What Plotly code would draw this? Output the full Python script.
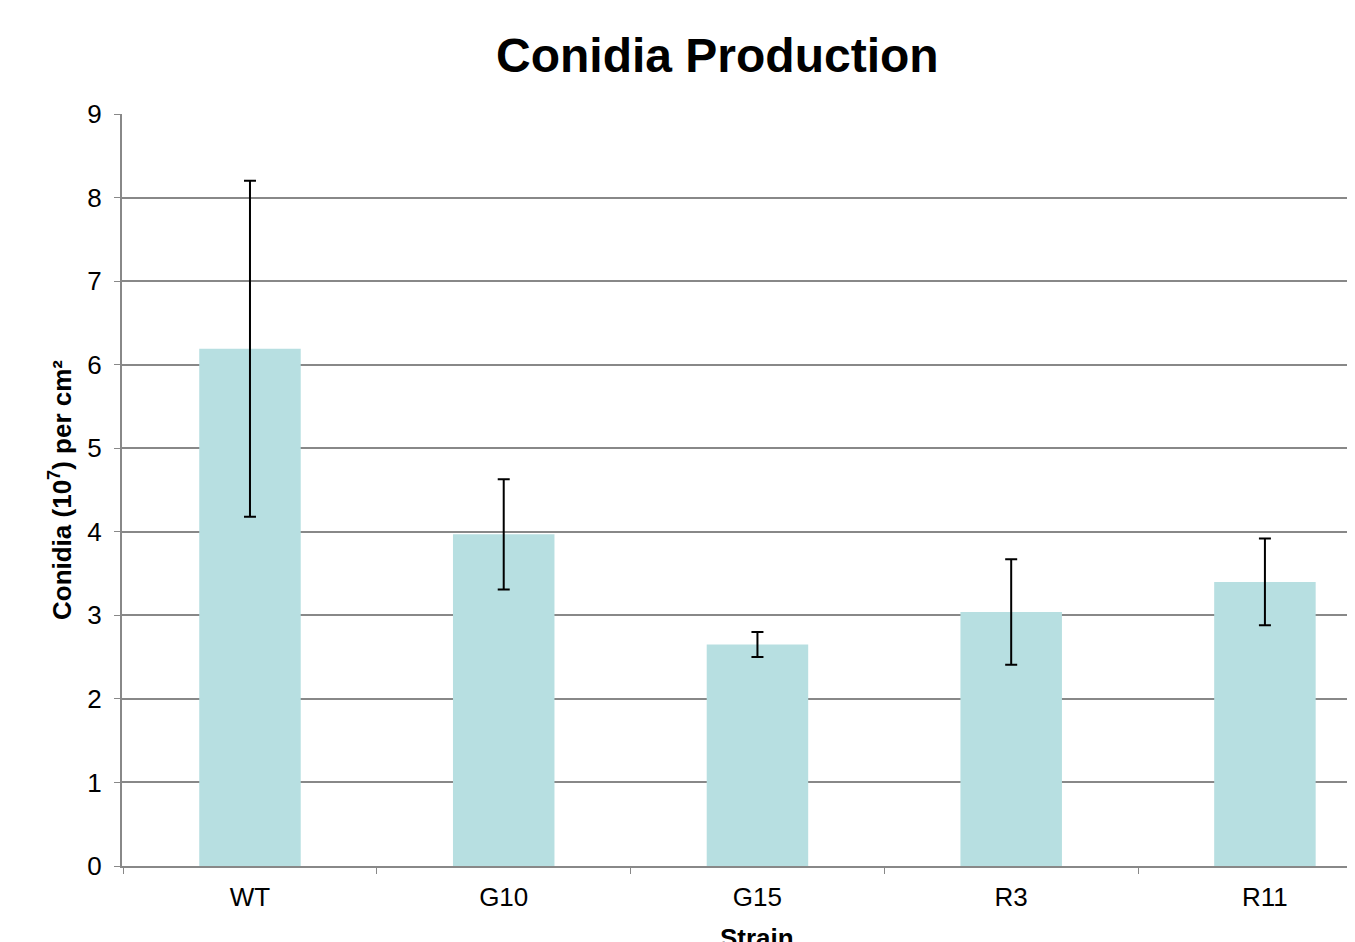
import plotly.graph_objects as go

strains = ["WT", "G10", "G15", "R3", "R11"]
conidia = [6.19, 3.97, 2.65, 3.04, 3.40]
err = [2.01, 0.66, 0.15, 0.63, 0.52]
y_ticks = [0, 1, 2, 3, 4, 5, 6, 7, 8, 9]

fig = go.Figure()
fig.add_trace(go.Bar(
    x=strains, y=conidia, width=0.4,
    marker=dict(color="#B7DFE1", line=dict(width=0)),
    error_y=dict(type="data", array=err, visible=True, color="#000000", thickness=2, width=6),
))

FONT = "Liberation Sans, Arial, sans-serif"
fig.update_layout(
    width=1347, height=934,
    margin=dict(l=114, r=0, t=106, b=76, autoexpand=False),
    paper_bgcolor="white", plot_bgcolor="white",
    font=dict(family=FONT, size=26, color="#000000"),
    showlegend=False,
    annotations=[
        dict(text="<b>Conidia Production</b>", xref="paper", yref="paper",
             x=0.4826, y=1, yshift=59, yanchor="middle", showarrow=False,
             font=dict(size=48, family=FONT)),
        dict(text="<b>Strain</b>", xref="paper", yref="paper",
             x=0.515, y=0, yshift=-72, yanchor="middle", showarrow=False,
             font=dict(size=26, family=FONT)),
    ],
)
fig.update_xaxes(
    range=[-0.5044, 4.355], tickson="boundaries", ticks="outside", ticklen=6, tickcolor="#888888",
    showline=True, linecolor="#888888", linewidth=2, showgrid=False, automargin=False,
    tickfont=dict(size=26), ticklabelstandoff=7,
)
fig.update_yaxes(
    range=[0, 9], tickvals=y_ticks, ticks="outside", ticklen=6, tickcolor="#888888",
    showline=True, linecolor="#888888", linewidth=2, automargin=False,
    showgrid=True, gridcolor="#888888", gridwidth=2, zeroline=False,
    tickfont=dict(size=26), ticklabelstandoff=7,
    title=dict(text="<b>Conidia (10<sup>7</sup>) per cm²</b>", font=dict(size=26), standoff=8),
)
fig.write_html("out.html")
